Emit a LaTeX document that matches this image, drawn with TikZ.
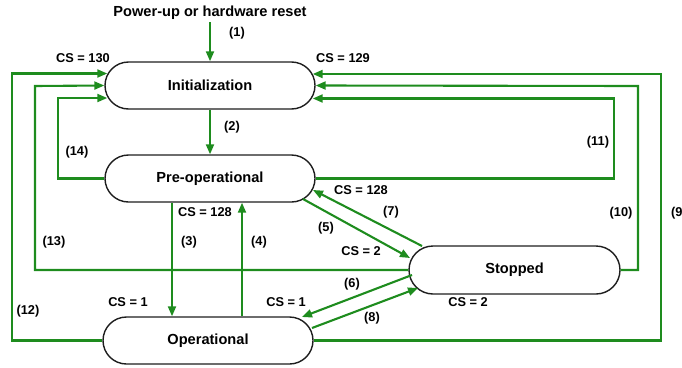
\documentclass[tikz,border=0pt]{standalone}
\usepackage{fontspec}
\setmainfont{Liberation Sans}
\usetikzlibrary{shapes.misc,arrows.meta,calc}
\definecolor{lgreen}{RGB}{30,140,30}
\definecolor{outline}{RGB}{30,30,30}
\tikzset{
  state/.style={rounded rectangle, draw=outline, line width=1.4pt, fill=white,
    minimum width=210pt, minimum height=47pt, inner sep=0pt,
    font=\fontsize{14.6pt}{16pt}\selectfont\bfseries},
  conn/.style={draw=lgreen, line width=2.1pt},
  arr/.style={conn, -{Triangle[length=10pt,width=8pt]}},
  lbl/.style={inner sep=0pt, font=\fontsize{12.8pt}{14pt}\selectfont\bfseries},
}
\begin{document}
\begin{tikzpicture}[x=1pt,y=-1pt]
\useasboundingbox (0,0) rectangle (682,367);
% states
\node[state] (init) at (210,85.5) {Initialization};
\node[state] (preop) at (210,178.5) {Pre-operational};
\node[state] (oper) at (208,340.5) {Operational};
\node[state, minimum width=211pt, minimum height=48pt] (stop) at (514.5,270) {Stopped};
\node[inner sep=0pt, font=\fontsize{14.6pt}{16pt}\selectfont\bfseries] (title) at (210,13) {Power-up or hardware reset};
% corner coordinates
\coordinate (c12a) at (12,340.5);  \coordinate (c12b) at (12,73.5);
\coordinate (c13a) at (35,270);    \coordinate (c13b) at (35,86);
\coordinate (c14a) at (58,178.5);  \coordinate (c14b) at (58,98);
\coordinate (c11a) at (614,178.5); \coordinate (c11b) at (614,98.5);
\coordinate (c10a) at (638,270);   \coordinate (c10b) at (638,86);
\coordinate (c9a) at (661,340.5);  \coordinate (c9b) at (661,74);
% vertical transitions
\draw[arr] ($(title.south)+(0,2)$) -- (init.north);
\draw[arr] (init.south) -- (preop.north);
\draw[arr] ($(preop.south)+(-38,0)$) coordinate (p3) -- (p3 |- oper.north);
\draw[arr] ($(oper.north)+(34,0)$) coordinate (p4) -- (p4 |- preop.south);
% diagonal transitions
\draw[arr] ($(preop.center)+(93,20.5)$) -- ($(stop.center)+(-104.5,-12)$);
\draw[arr] ($(stop.center)+(-92.5,-24)$) -- ($(preop.center)+(103,11.5)$);
\draw[arr] ($(stop.center)+(-102.5,5)$) -- ($(oper.center)+(94,-23.5)$);
\draw[arr] ($(oper.center)+(104,-12.5)$) -- ($(stop.center)+(-96.5,18)$);
% loops to Initialization (left)
\draw[arr] (oper.west) -- (c12a) -- (c12b) -- ($(init.west)+(3,-12)$);
\draw[arr] (stop.west) -- (c13a) -- (c13b) -- (init.west);
\draw[arr] (preop.west) -- (c14a) -- (c14b) -- ($(init.west)+(3,12.5)$);
% loops to Initialization (right)
\draw[arr] (preop.east) -- (c11a) -- (c11b) -- ($(init.east)+(-3,13)$);
\draw[arr] (stop.east) -- (c10a) -- (c10b) -- (init.east);
\draw[arr] (oper.east) -- (c9a) -- (c9b) -- ($(init.east)+(-3,-11.5)$);
% labels
\node[lbl] (l1) at (237,33) {(1)};
\node[lbl] (l2) at (232,127) {(2)};
\node[lbl] (cs130) at (83,58) {CS = 130};
\node[lbl] (cs129) at (343,58) {CS = 129};
\node[lbl] (l14) at (77,152) {(14)};
\node[lbl] (l11) at (598,142) {(11)};
\node[lbl] (l13) at (54,242) {(13)};
\node[lbl] (l10) at (621,213) {(10)};
\node[lbl, anchor=west] (l9) at (671,213) {(9)};
\node[lbl] (l12) at (28,311) {(12)};
\node[lbl] (cs128a) at (205,212) {CS = 128};
\node[lbl] (l3) at (189,242) {(3)};
\node[lbl] (l4) at (259,242) {(4)};
\node[lbl] (cs1a) at (128,302) {CS = 1};
\node[lbl] (cs1b) at (286,302) {CS = 1};
\node[lbl] (cs128b) at (361,190) {CS = 128};
\node[lbl] (l7) at (391,212) {(7)};
\node[lbl] (l5) at (326,228) {(5)};
\node[lbl] (cs2a) at (361,251) {CS = 2};
\node[lbl] (l6) at (352,284) {(6)};
\node[lbl] (l8) at (372,318) {(8)};
\node[lbl] (cs2b) at (468,302) {CS = 2};
\end{tikzpicture}
\end{document}
